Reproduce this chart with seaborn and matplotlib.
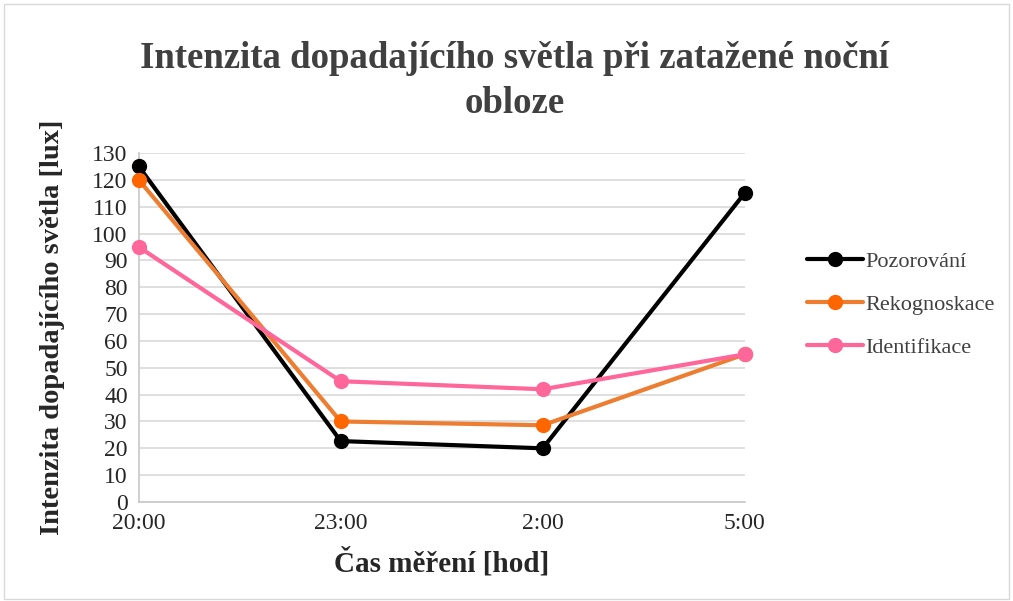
import seaborn as sns
import pandas as pd
import matplotlib.pyplot as plt
from matplotlib.patches import Rectangle

casy = ["20:00", "23:00", "2:00", "5:00"]
pozorovani = [125, 22.7, 20, 115]
rekognoskace = [120, 30, 28.6, 55]
identifikace = [95, 45, 42, 55]
serie = ["Pozorování", "Rekognoskace", "Identifikace"]
line_colors = ["#000000", "#ED7D31", "#FF6699"]
marker_colors = ["#000000", "#FF6600", "#FF6699"]

df = pd.DataFrame({
    "x": list(range(len(casy))) * 3,
    "lux": pozorovani + rekognoskace + identifikace,
    "serie": [s for s in serie for _ in casy],
})

sns.set_style("white")
plt.rcParams["font.family"] = ["Liberation Serif", "DejaVu Serif"]

fig = plt.figure(figsize=(10.13, 6.01), dpi=100)
ax = fig.add_axes([0.137, 0.1647, 0.598, 0.5807])

sns.lineplot(data=df, x="x", y="lux", hue="serie", hue_order=serie,
             palette=line_colors, marker="o", markersize=11, linewidth=3,
             markeredgewidth=0, ax=ax, legend=False, zorder=3)
for ln, mc in zip(ax.lines, marker_colors):
    ln.set_markerfacecolor(mc)
    ln.set_markeredgecolor(mc)
    ln.set_clip_on(False)

ax.set_xlim(0, 3)
ax.set_ylim(0, 130)
ax.set_xticks(range(len(casy)))
ax.set_xticklabels(casy)
ax.set_yticks(range(0, 131, 10))
ax.tick_params(axis="both", labelsize=17, labelcolor="#262626", width=1.2,
               direction="out", color="#c8c8c8", length=6, pad=2)
ax.grid(axis="y", color="#d9d9d9", linewidth=1.2)
ax.set_axisbelow(True)
for s in ["top", "right"]:
    ax.spines[s].set_visible(False)
for s in ["left", "bottom"]:
    ax.spines[s].set_color("#c8c8c8")
    ax.spines[s].set_linewidth(1.2)

ax.set_xlabel("Čas měření [hod]", fontsize=21, fontweight="bold", labelpad=10,
              color="#262626")
ax.set_ylabel("Intenzita dopadajícího světla [lux]", fontsize=20.5,
              fontweight="bold", labelpad=20, color="#262626")

fig.suptitle("Intenzita dopadajícího světla při zatažené noční\nobloze",
             x=0.508, y=0.932, fontsize=26.5, fontweight="bold", color="#404040",
             linespacing=1.38)

handles = []
for lc, mc, name in zip(line_colors, marker_colors, serie):
    h, = ax.plot([], [], color=lc, linewidth=3, marker="o", markersize=10,
                 markerfacecolor=mc, markeredgecolor=mc, label=name)
    handles.append(h)
leg = fig.legend(handles=handles, loc="center left",
                 bbox_to_anchor=(0.777, 0.493), frameon=False, fontsize=16,
                 handlelength=2.5, handletextpad=0.1, labelspacing=1.0)
for t in leg.get_texts():
    t.set_color("#404040")

fig.patches.append(Rectangle((0.004, 0.004), 0.992, 0.99, transform=fig.transFigure,
                             fill=False, edgecolor="#d9d9d9", linewidth=1))

fig.savefig("out.png", dpi=100)
